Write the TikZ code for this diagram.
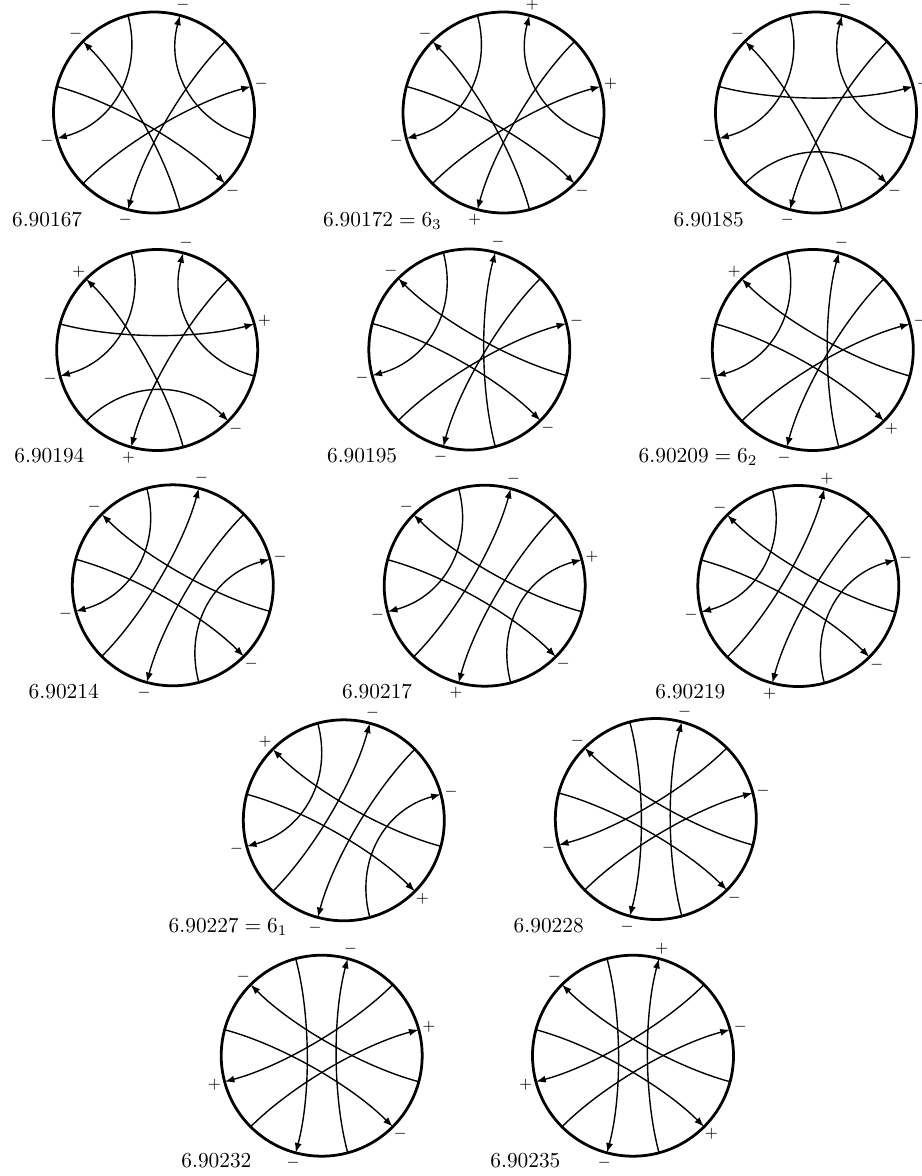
\documentclass[tikz,border=0pt]{standalone}
\usetikzlibrary{arrows.meta,calc}
\newcommand{\Rr}{100.5}
\newcommand{\Tt}{0.58}
\tikzset{
 rim/.style={line width=1.3pt},
 chord/.style={line width=0.65pt,-{Latex[length=4.6pt,width=3.3pt]}},
 sgn/.style={font=\scriptsize,inner sep=0pt},
 lbl/.style={anchor=base west,inner sep=0pt},
}
\newcommand{\gdiag}[5]{%
 \begin{scope}[shift={(#2,-#3)}]
  \coordinate (#1o) at (0,0);
  \foreach \ang in {15,45,...,345}{\coordinate (#1p\ang) at (\ang:\Rr);}
  \draw[rim] (#1o) circle[radius=\Rr];
  \foreach \ta/\hd in #4{
    \draw[chord] (#1p\ta) .. controls ($(#1p\ta)!\Tt!(#1o)$) and ($(#1p\hd)!\Tt!(#1o)$) .. (#1p\hd);
  }
  \foreach \ang/\sg in {#5}{\node[sgn] (#1s\ang) at ({\ang}:{1.105*\Rr}) {$\sg$};}
 \end{scope}
}
\newcommand{\CA}{105/195,345/75,285/135,165/315,45/255,225/15}
\newcommand{\CB}{105/195,345/75,285/135,165/15,45/255,225/315}
\newcommand{\CC}{105/195,285/75,345/135,165/315,45/255,225/15}
\newcommand{\CD}{105/195,225/75,345/135,165/315,45/255,285/15}
\newcommand{\CE}{105/255,285/75,345/135,45/195,165/315,225/15}
\begin{document}
\begin{tikzpicture}[x=0.4684pt,y=0.4684pt]
\useasboundingbox (0,0) rectangle (922,-1176);
% row 1
\gdiag{a}{154}{112.5}{\CA}{75/-,135/-,195/-,255/-,315/-,15/-}
\gdiag{b}{503.5}{112.5}{\CA}{75/+,135/-,195/-,255/+,315/-,15/+}
\gdiag{c}{816}{112.5}{\CB}{75/-,135/-,195/-,255/-,315/-,15/-}
\node[lbl] (la) at (11.7,-226) {6.90167};
\node[lbl] (lb) at (322.7,-226) {$6.90172 = 6_3$};
\node[lbl] (lc) at (673.3,-226) {6.90185};
% row 2
\gdiag{d}{157.2}{350}{\CB}{75/-,135/+,195/-,255/+,315/-,15/+}
\gdiag{e}{469.3}{349.5}{\CC}{75/-,135/-,195/-,255/-,315/-,15/-}
\gdiag{f}{812.8}{350}{\CC}{75/-,135/+,195/-,255/-,315/+,15/-}
\node[lbl] (ld) at (14,-462) {6.90194};
\node[lbl] (le) at (326.7,-462) {6.90195};
\node[lbl] (lf) at (638.3,-462) {$6.90209 = 6_2$};
% row 3
\gdiag{g}{172.8}{585.3}{\CD}{75/-,135/-,195/-,255/-,315/-,15/-}
\gdiag{h}{484.7}{585.7}{\CD}{75/-,135/-,195/-,255/+,315/-,15/+}
\gdiag{i}{798.3}{586}{\CD}{75/+,135/-,195/-,255/+,315/-,15/-}
\node[lbl] (lg) at (28.3,-698.5) {6.90214};
\node[lbl] (lh) at (341.7,-698.5) {6.90217};
\node[lbl] (li) at (655,-698.5) {6.90219};
% row 4
\gdiag{j}{343.8}{820.3}{\CD}{75/-,135/+,195/-,255/-,315/+,15/-}
\gdiag{k}{655.8}{819}{\CE}{75/-,135/-,195/-,255/-,315/-,15/-}
\node[lbl] (lj) at (168.3,-932) {$6.90227 = 6_1$};
\node[lbl] (lk) at (513.3,-932) {6.90228};
% row 5
\gdiag{m}{321.7}{1055.7}{\CE}{75/-,135/-,195/+,255/-,315/-,15/+}
\gdiag{n}{633}{1055.7}{\CE}{75/+,135/-,195/+,255/-,315/+,15/-}
\node[lbl] (lm) at (181,-1167.5) {6.90232};
\node[lbl] (ln) at (490,-1167.5) {6.90235};
\end{tikzpicture}
\end{document}
